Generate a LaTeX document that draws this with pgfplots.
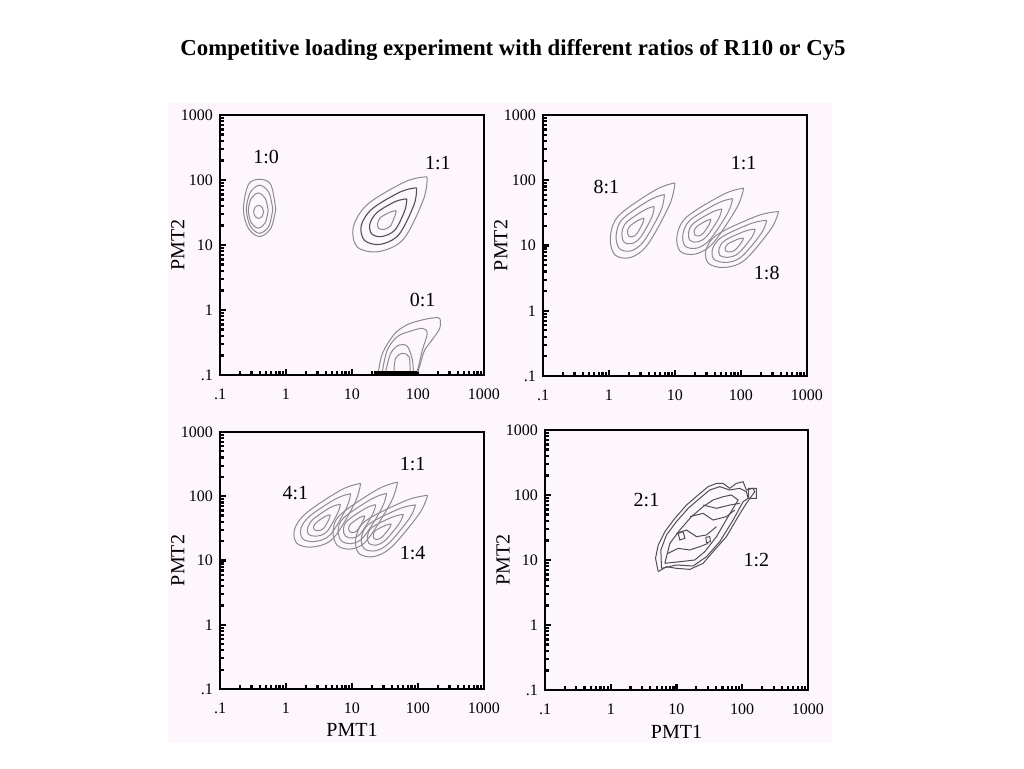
\documentclass[border=0pt]{standalone}
\usepackage{fontspec}
\setmainfont{Liberation Serif}
\usepackage{pgfplots}
\pgfplotsset{compat=1.18}
\definecolor{bgpink}{RGB}{253,246,253}
\definecolor{cgray}{RGB}{140,140,140}
\definecolor{dgray}{RGB}{80,80,80}
\tikzset{lab/.style={font=\fontsize{10}{11}\selectfont}}
\pgfplotsset{
 panel/.style={
  scale only axis, width=132pt, height=130pt,
  xmin=-1,xmax=3,ymin=-1,ymax=3,
  xtick={-1,0,1,2,3}, ytick={-1,0,1,2,3},
  xticklabels={.1,1,10,100,1000}, yticklabels={.1,1,10,100,1000},
  minor xtick={-0.699,-0.523,-0.398,-0.301,-0.222,-0.155,-0.097,-0.046,0.301,0.477,0.602,0.699,0.778,0.845,0.903,0.954,1.301,1.477,1.602,1.699,1.778,1.845,1.903,1.954,2.301,2.477,2.602,2.699,2.778,2.845,2.903,2.954},
  minor ytick={-0.699,-0.523,-0.398,-0.301,-0.222,-0.155,-0.097,-0.046,0.301,0.477,0.602,0.699,0.778,0.845,0.903,0.954,1.301,1.477,1.602,1.699,1.778,1.845,1.903,1.954,2.301,2.477,2.602,2.699,2.778,2.845,2.903,2.954},
  tick align=inside, tick pos=left,
  major tick length=3pt, minor tick length=2.2pt,
  every tick/.style={black,line width=1.1pt},
  axis line style={line width=1.4pt},
  axis background/.style={fill=bgpink},
  tick label style={font=\fontsize{8}{9}\selectfont},
  xticklabel style={yshift=-3.5pt},
  label style={font=\fontsize{8}{9}\selectfont},
  ylabel={PMT2},
  every axis y label/.style={at={(axis description cs:-0.16,0.5)},rotate=90,anchor=center},
  every axis x label/.style={at={(axis description cs:0.5,-0.16)},anchor=center},
 },
 ct/.style={cgray, line width=0.5pt, smooth, tension=0.55},
 dk/.style={dgray, line width=0.55pt, smooth, tension=0.55},
 jg/.style={dgray, line width=0.5pt},
}
\begin{document}
\begin{tikzpicture}
\path[use as bounding box, fill=white] (0,0) rectangle (512pt,384pt);
\fill[bgpink] (84pt,12.5pt) rectangle (416pt,332.5pt);
\node[font=\bfseries\fontsize{11.4}{13}\selectfont] at (256.5pt,359pt) {Competitive loading experiment with different ratios of R110 or Cy5};

% ---------------- Panel 1 ----------------
\begin{axis}[panel, at={(110pt,196.5pt)}, anchor=south west]
% 1:0
\addplot[ct] coordinates {(-0.155,1.55) (-0.23,1.93) (-0.40,2.01) (-0.57,1.93) (-0.645,1.55) (-0.57,1.256) (-0.40,1.13) (-0.23,1.256) (-0.155,1.55)};
\addplot[ct] coordinates {(-0.20,1.55) (-0.26,1.81) (-0.40,1.92) (-0.54,1.81) (-0.60,1.55) (-0.54,1.29) (-0.40,1.18) (-0.26,1.29) (-0.20,1.55)};
\addplot[ct] coordinates {(-0.27,1.53) (-0.315,1.72) (-0.42,1.80) (-0.525,1.72) (-0.57,1.53) (-0.525,1.34) (-0.42,1.26) (-0.315,1.34) (-0.27,1.53)};
\addplot[ct] coordinates {(-0.34,1.51) (-0.3625,1.58) (-0.415,1.61) (-0.4675,1.58) (-0.49,1.51) (-0.4675,1.44) (-0.415,1.41) (-0.3625,1.44) (-0.34,1.51)};
% 1:1
\addplot[ct] coordinates {(2.14,2.05) (1.816,1.978) (1.24,1.63) (1.02,1.276) (1.08,0.97) (1.398,0.898) (1.78,1.09) (2.086,1.708) (2.14,2.05)};
\addplot[dk] coordinates {(1.98,1.88) (1.74,1.82) (1.31,1.56) (1.14,1.30) (1.19,1.07) (1.43,1.01) (1.71,1.16) (1.94,1.62) (1.98,1.88)};
\addplot[dk] coordinates {(1.83,1.71) (1.66,1.67) (1.38,1.50) (1.27,1.32) (1.30,1.17) (1.45,1.13) (1.65,1.23) (1.80,1.53) (1.83,1.71)};
\addplot[ct] coordinates {(1.67,1.53) (1.59,1.51) (1.44,1.43) (1.39,1.34) (1.40,1.26) (1.48,1.24) (1.58,1.29) (1.65,1.45) (1.67,1.53)};
% 0:1
\addplot[ct] coordinates {(1.40,-0.95) (1.45,-0.70) (1.55,-0.50) (1.68,-0.33) (1.85,-0.22) (2.0,-0.17) (2.12,-0.14) (2.25,-0.12) (2.33,-0.13) (2.33,-0.28) (2.22,-0.45) (2.10,-0.62) (2.03,-0.85) (2.0,-0.95)};
\addplot[ct] coordinates {(1.459,-0.949) (1.535,-0.615) (1.687,-0.41) (1.864,-0.333) (2.067,-0.282) (2.14,-0.36) (2.067,-0.615) (1.99,-0.95)};
\addplot[ct] coordinates {(1.51,-0.95) (1.586,-0.667) (1.712,-0.54) (1.84,-0.56) (1.915,-0.77) (1.93,-0.95)};
\addplot[ct] coordinates {(1.636,-0.95) (1.66,-0.744) (1.763,-0.667) (1.864,-0.72) (1.88,-0.95)};
\addplot[black, line width=1.8pt] coordinates {(1.33,-0.965) (1.99,-0.965)};
\node[lab] at (axis cs:-0.30,2.35) {1:0};
\node[lab] at (axis cs:2.30,2.26) {1:1};
\node[lab] at (axis cs:2.07,0.154) {0:1};
\end{axis}

% ---------------- Panel 2 ----------------
\begin{axis}[panel, at={(271.5pt,196pt)}, anchor=south west, height=130.5pt]
% 8:1
\addplot[ct] coordinates {(1.00,1.96) (0.70,1.85) (0.15,1.46) (0.02,1.125) (0.09,0.856) (0.33,0.817) (0.59,1.02) (0.92,1.63) (1.00,1.96)};
\addplot[ct] coordinates {(0.84,1.78) (0.62,1.70) (0.205,1.405) (0.108,1.154) (0.16,0.95) (0.34,0.92) (0.535,1.075) (0.785,1.53) (0.84,1.78)};
\addplot[ct] coordinates {(0.685,1.60) (0.54,1.545) (0.26,1.35) (0.195,1.18) (0.23,1.05) (0.35,1.03) (0.48,1.13) (0.65,1.435) (0.685,1.60)};
\addplot[ct] coordinates {(0.53,1.42) (0.45,1.39) (0.315,1.295) (0.28,1.21) (0.30,1.145) (0.36,1.135) (0.425,1.185) (0.51,1.34) (0.53,1.42)};
% 1:1
\addplot[ct] coordinates {(2.04,1.88) (1.742,1.788) (1.18,1.44) (1.03,1.149) (1.08,0.91) (1.31,0.869) (1.58,1.04) (1.942,1.588) (2.04,1.88)};
\addplot[ct] coordinates {(1.875,1.72) (1.65,1.65) (1.23,1.39) (1.12,1.17) (1.155,0.99) (1.33,0.96) (1.53,1.09) (1.80,1.50) (1.875,1.72)};
\addplot[ct] coordinates {(1.71,1.56) (1.56,1.51) (1.28,1.34) (1.205,1.195) (1.23,1.075) (1.345,1.055) (1.48,1.14) (1.66,1.41) (1.71,1.56)};
\addplot[ct] coordinates {(1.545,1.40) (1.47,1.377) (1.33,1.29) (1.29,1.217) (1.305,1.1575) (1.3625,1.147) (1.43,1.19) (1.52,1.327) (1.545,1.40)};
% 1:8
\addplot[ct] coordinates {(2.57,1.52) (2.257,1.458) (1.66,1.18) (1.472,0.943) (1.506,0.727) (1.752,0.663) (2.06,0.78) (2.457,1.258) (2.57,1.52)};
\addplot[ct] coordinates {(2.39,1.385) (2.16,1.34) (1.71,1.13) (1.57,0.95) (1.59,0.79) (1.78,0.74) (2.01,0.83) (2.31,1.19) (2.39,1.385)};
\addplot[ct] coordinates {(2.215,1.25) (2.06,1.22) (1.76,1.08) (1.67,0.96) (1.68,0.85) (1.81,0.82) (1.96,0.88) (2.16,1.12) (2.215,1.25)};
\addplot[ct] coordinates {(2.04,1.115) (1.96,1.10) (1.81,1.03) (1.763,0.971) (1.77,0.917) (1.833,0.901) (1.91,0.93) (2.01,1.05) (2.04,1.115)};
\node[lab] at (axis cs:-0.04,1.90) {8:1};
\node[lab] at (axis cs:2.04,2.26) {1:1};
\node[lab] at (axis cs:2.39,0.573) {1:8};
\end{axis}

% ---------------- Panel 3 ----------------
\begin{axis}[panel, at={(110pt,39.5pt)}, anchor=south west, height=128.5pt, xlabel={PMT1}]
% 4:1
\addplot[ct] coordinates {(1.13,2.20) (0.847,2.105) (0.32,1.75) (0.131,1.491) (0.165,1.266) (0.411,1.211) (0.72,1.35) (1.047,1.905) (1.13,2.20)};
\addplot[ct] coordinates {(0.98,2.04) (0.765,1.966) (0.37,1.70) (0.228,1.506) (0.254,1.337) (0.438,1.296) (0.67,1.40) (0.915,1.816) (0.98,2.04)};
\addplot[ct] coordinates {(0.825,1.875) (0.68,1.83) (0.42,1.65) (0.33,1.52) (0.34,1.41) (0.47,1.38) (0.62,1.45) (0.78,1.73) (0.825,1.875)};
\addplot[ct] coordinates {(0.67,1.71) (0.60,1.69) (0.47,1.60) (0.42,1.535) (0.43,1.48) (0.49,1.465) (0.57,1.50) (0.65,1.64) (0.67,1.71)};
% 1:1
\addplot[ct] coordinates {(1.69,2.22) (1.392,2.11) (0.83,1.72) (0.713,1.46) (0.777,1.235) (0.993,1.18) (1.23,1.32) (1.592,1.91) (1.69,2.22)};
\addplot[ct] coordinates {(1.525,2.045) (1.30,1.96) (0.88,1.67) (0.79,1.475) (0.84,1.306) (1.00,1.265) (1.18,1.37) (1.45,1.81) (1.525,2.045)};
\addplot[ct] coordinates {(1.36,1.87) (1.21,1.815) (0.93,1.62) (0.87,1.49) (0.90,1.38) (1.01,1.35) (1.13,1.42) (1.31,1.715) (1.36,1.87)};
\addplot[ct] coordinates {(1.195,1.695) (1.12,1.67) (0.98,1.57) (0.95,1.505) (0.967,1.449) (1.02,1.435) (1.08,1.47) (1.17,1.62) (1.195,1.695)};
% 1:4
\addplot[ct] coordinates {(2.146,2.015) (1.825,1.9365) (1.21,1.62) (1.057,1.342) (1.106,1.109) (1.337,1.062) (1.61,1.22) (2.025,1.7365) (2.146,2.015)};
\addplot[ct] coordinates {(1.962,1.866) (1.721,1.807) (1.26,1.57) (1.145,1.3615) (1.182,1.187) (1.355,1.1515) (1.56,1.27) (1.871,1.657) (1.962,1.866)};
\addplot[ct] coordinates {(1.778,1.7175) (1.6175,1.678) (1.31,1.52) (1.2335,1.381) (1.258,1.2645) (1.3735,1.241) (1.51,1.32) (1.7175,1.578) (1.778,1.7175)};
\addplot[ct] coordinates {(1.594,1.569) (1.514,1.549) (1.36,1.47) (1.322,1.4005) (1.334,1.342) (1.392,1.3305) (1.46,1.37) (1.564,1.499) (1.594,1.569)};
\node[lab] at (axis cs:0.142,2.043) {4:1};
\node[lab] at (axis cs:1.919,2.508) {1:1};
\node[lab] at (axis cs:1.919,1.111) {1:4};
\end{axis}

% ---------------- Panel 4 ----------------
\begin{axis}[panel, at={(272.5pt,39pt)}, anchor=south west, width=131.5pt, xlabel={PMT1}]
\addplot[jg] coordinates {(0.722,0.821) (0.848,0.897) (1.0,0.872) (1.203,0.856) (1.405,0.949) (1.557,1.128) (1.759,1.359) (1.937,1.667) (2.063,1.872) (2.19,2.051) (2.165,2.103) (2.063,2.077) (2.013,2.205) (1.911,2.179) (1.81,2.103) (1.709,2.179) (1.608,2.179) (1.481,2.128) (1.329,2.0) (1.152,1.846) (0.975,1.641) (0.823,1.436) (0.722,1.231) (0.681,1.026) (0.722,0.821)};
\addplot[jg] coordinates {(0.772,0.872) (1.0,0.923) (1.253,0.908) (1.456,1.051) (1.658,1.282) (1.861,1.615) (2.013,1.897) (2.089,1.949) (2.063,2.051) (1.962,2.103) (1.81,2.077) (1.658,2.128) (1.506,2.077) (1.354,1.949) (1.177,1.795) (1.0,1.59) (0.848,1.385) (0.762,1.154) (0.772,0.872)};
\addplot[jg] coordinates {(0.823,0.949) (1.051,0.974) (1.278,1.0) (1.43,1.128) (1.608,1.359) (1.785,1.667) (1.937,1.923) (1.835,2.0) (1.709,1.974) (1.557,1.923) (1.405,1.821) (1.228,1.667) (1.051,1.462) (0.899,1.256) (0.823,0.949)};
\addplot[jg] coordinates {(0.873,1.103) (1.025,1.179) (1.203,1.154) (1.354,1.205) (1.481,1.256)};
\addplot[jg] coordinates {(1.0,1.41) (1.152,1.462) (1.304,1.359) (1.456,1.385) (1.608,1.513)};
\addplot[jg] coordinates {(1.203,1.667) (1.405,1.718) (1.557,1.615) (1.759,1.667) (1.886,1.769)};
\addplot[jg] coordinates {(1.405,1.846) (1.608,1.795) (1.81,1.846) (1.962,1.872)};
\addplot[jg] coordinates {(1.025,1.41) (1.101,1.436) (1.127,1.333) (1.051,1.308) (1.025,1.41)};
\addplot[jg] coordinates {(1.446,1.349) (1.506,1.359) (1.516,1.282) (1.456,1.267) (1.446,1.349)};
\addplot[jg] coordinates {(2.089,2.103) (2.215,2.103) (2.215,1.949) (2.10,1.949) (2.089,2.103)};
\node[lab] at (axis cs:0.544,1.923) {2:1};
\node[lab] at (axis cs:2.215,1.0) {1:2};
\end{axis}
\end{tikzpicture}
\end{document}
